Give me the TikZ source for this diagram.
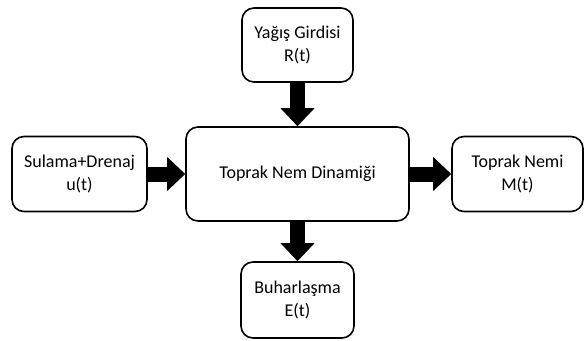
\documentclass[tikz,border=0pt]{standalone}
\usepackage{fontspec}
\setmainfont{Carlito}
\usetikzlibrary{arrows.meta}

\begin{document}
\begin{tikzpicture}[x=1pt, y=-1pt,
    box/.style={draw, line width=1.6pt, rounded corners=12pt, align=center, inner sep=0pt, font=\fontsize{18}{23}\selectfont},
    fat/.style={line width=15pt, -{Triangle[length=18pt, width=34pt, line width=0pt]}}]
    \useasboundingbox (0,0) rectangle (585,340);
    \node(dyn)[box, minimum width=223pt, minimum height=94pt] at (297.5,174) {Toprak Nem Dinamiği};
    \node(rain)[box, minimum width=111pt, minimum height=74pt] at (297.5,45) {Yağış Girdisi\\R(t)};
    \node(irr)[box, minimum width=135pt, minimum height=75pt] at (79.5,174) {Sulama+Drenaj\\u(t)};
    \node(moist)[box, minimum width=131pt, minimum height=75pt] at (517.5,174) {Toprak Nemi\\M(t)};
    \node(evap)[box, minimum width=113pt, minimum height=76pt] at (297.5,300) {Buharlaşma\\E(t)};
    \draw[fat] (rain) -- (dyn);
    \draw[fat] (irr) -- (dyn);
    \draw[fat] (dyn) -- (moist);
    \draw[fat] (dyn) -- (evap);

    \end{tikzpicture}
\end{document}
